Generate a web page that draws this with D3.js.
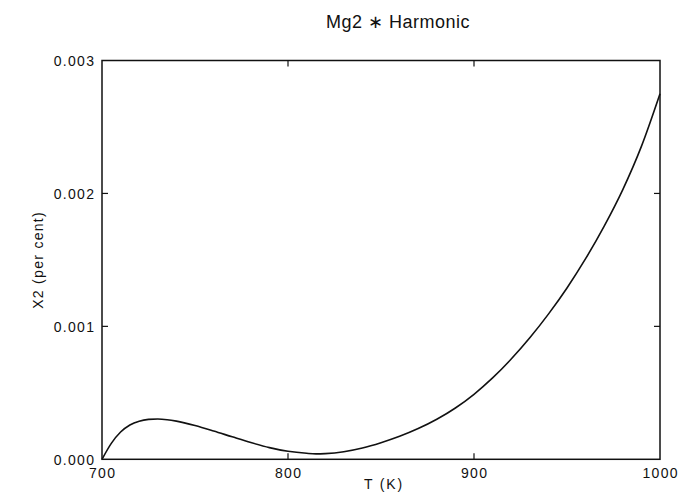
<!DOCTYPE html>
<html>
<head>
<meta charset="utf-8">
<script src="https://cdn.jsdelivr.net/npm/d3@7"></script>
<style>
  html, body { margin: 0; padding: 0; background: #fff; }
  svg { display: block; }
  text { font-family: "Liberation Sans", Arial, sans-serif; fill: #111; }
</style>
</head>
<body>
<script>
const temperature = [700, 705, 710, 715, 720, 725, 730, 735, 740, 750, 760, 770, 780, 790, 800, 810, 815, 820, 830, 840, 850, 860, 870, 880, 890, 900, 910, 920, 930, 940, 950, 960, 970, 980, 990, 1000];
const x2Values = [0, 0.00012, 0.000205, 0.000258, 0.000287, 0.0003, 0.000303, 0.000298, 0.000287, 0.000254, 0.000213, 0.000169, 0.000126, 0.000088, 0.00006, 0.000045, 0.000041, 0.000043, 0.000057, 0.000085, 0.000125, 0.000173, 0.000231, 0.000301, 0.000386, 0.000489, 0.000612, 0.000754, 0.000914, 0.001092, 0.001289, 0.001509, 0.001754, 0.002029, 0.002354, 0.00275];
const xTicks = [700, 800, 900, 1000];
const yTicks = [0, 0.001, 0.002, 0.003];
const titleText = "Mg2 \u2217 Harmonic";
const xLabel = "T (K)";
const yLabel = "X2 (per cent)";

const W = 682, H = 494;
const mLeft = 102, mRight = 660, mTop = 60.5, mBottom = 459.3;
const ls = 1.3;

const svg = d3.select("body").append("svg").attr("width", W).attr("height", H);

const x = d3.scaleLinear().domain([700, 1000]).range([mLeft, mRight]);
const y = d3.scaleLinear().domain([0, 0.003]).range([mBottom, mTop]);

svg.append("rect")
  .attr("x", mLeft).attr("y", mTop)
  .attr("width", mRight - mLeft).attr("height", mBottom - mTop)
  .attr("fill", "none").attr("stroke", "#111").attr("stroke-width", 1.5);

const tickLen = 6;
const innerX = xTicks.filter(d => d > 700 && d < 1000);
const innerY = yTicks.filter(d => d > 0 && d < 0.003);
const tickG = svg.append("g").attr("stroke", "#111").attr("stroke-width", 1.2);
innerX.forEach(d => {
  tickG.append("line").attr("x1", x(d)).attr("x2", x(d)).attr("y1", mBottom).attr("y2", mBottom - tickLen);
  tickG.append("line").attr("x1", x(d)).attr("x2", x(d)).attr("y1", mTop).attr("y2", mTop + tickLen);
});
innerY.forEach(d => {
  tickG.append("line").attr("y1", y(d)).attr("y2", y(d)).attr("x1", mLeft).attr("x2", mLeft + tickLen);
  tickG.append("line").attr("y1", y(d)).attr("y2", y(d)).attr("x1", mRight).attr("x2", mRight - tickLen);
});

svg.append("g").selectAll("text").data(xTicks).join("text")
  .attr("x", d => x(d) + ls / 2).attr("y", mBottom + 18.5)
  .attr("text-anchor", "middle").attr("font-size", 14)
  .attr("letter-spacing", ls)
  .text(d => d3.format("d")(d));

svg.append("g").selectAll("text").data(yTicks).join("text")
  .attr("x", mLeft - 8 + ls).attr("y", d => y(d) + 5.5)
  .attr("text-anchor", "end").attr("font-size", 14)
  .attr("letter-spacing", ls)
  .text(d => d3.format(".3f")(d));

svg.append("text")
  .attr("x", 384).attr("y", 489)
  .attr("text-anchor", "middle").attr("font-size", 14)
  .attr("letter-spacing", ls + 0.5)
  .text(xLabel);

svg.append("text")
  .attr("transform", `translate(43, ${(mTop + mBottom) / 2}) rotate(-90)`)
  .attr("text-anchor", "middle").attr("font-size", 14)
  .attr("letter-spacing", ls)
  .text(yLabel);

svg.append("text")
  .attr("x", 398).attr("y", 28)
  .attr("text-anchor", "middle").attr("font-size", 18)
  .attr("letter-spacing", 0.5)
  .text(titleText);

const data = temperature.map((t, i) => ({ t, v: x2Values[i] }));
const line = d3.line().x(d => x(d.t)).y(d => y(d.v)).curve(d3.curveMonotoneX);
svg.append("path").datum(data)
  .attr("d", line)
  .attr("fill", "none").attr("stroke", "#111").attr("stroke-width", 1.6);
</script>
</body>
</html>
